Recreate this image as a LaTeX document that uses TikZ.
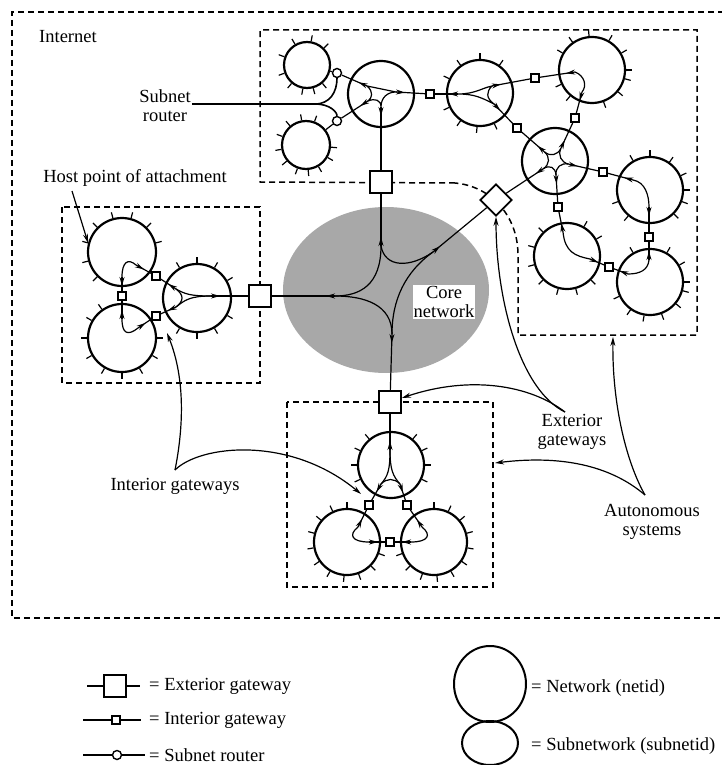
\documentclass[tikz,border=0pt]{standalone}
\usepackage{fontspec}
\setmainfont{Liberation Serif}
\usepackage{tikz}
\usetikzlibrary{arrows.meta,calc,decorations.markings,shapes.geometric}
\definecolor{coregray}{RGB}{168,168,168}

\tikzset{
  net/.style={circle,draw,line width=2.2pt,minimum size=#1,inner sep=0pt},
  net/.default=66pt,
  extgw/.style={rectangle,draw,fill=white,line width=1.8pt,minimum size=22pt,inner sep=0pt},
  intgw/.style={rectangle,draw,fill=white,line width=1.4pt,minimum size=8pt,inner sep=0pt},
  subrt/.style={circle,draw,fill=white,line width=1.4pt,minimum size=9pt,inner sep=0pt},
  asbox/.style={line width=1.5pt,dash pattern=on 6pt off 4pt},
  link/.style={line width=1.2pt},
  tipat/.style={link,postaction={decorate},
    decoration={markings,mark=at position #1 with {\arrow{>}}}},
  tipat/.default=9pt,
  callout/.style={line width=1.2pt,->},
  lbl/.style={font=\fontsize{18.5}{19}\selectfont,align=center,inner sep=1pt},
  >={Stealth[length=9pt,width=5pt]}
}
\newcommand{\nettick}[2]{\foreach \a in {#2} \draw[line width=1.2pt] (#1.\a) -- ++(\a:6pt);}

\begin{document}
\begin{tikzpicture}[x=1pt,y=-1pt]
\useasboundingbox (0,0) rectangle (722,765);

% internet and autonomous systems
\draw[asbox] (724,12) -- (12,12) -- (12,618) -- (724,618);
\draw[asbox] (455,183) -- (260,182) -- (260,30) -- (697,30) -- (697,335) -- (518,335)
  -- (518,255) .. controls (518,215) and (490,186) .. (455,183);
\draw[asbox] (62,207) rectangle (260,383);
\draw[asbox] (287,402) rectangle (493,587);
\fill[coregray] (386,290) ellipse [x radius=103pt, y radius=83pt];

\node[lbl,anchor=west] (inet) at (38,37) {Internet};
\node[lbl] (srlbl) at (165,106) {Subnet\\router};
\node[lbl] (host) at (135,178) {Host point of attachment};
\node[lbl] (iglbl) at (175,486) {Interior gateways};
\node[lbl] (eglbl) at (572,432) {Exterior\\gateways};
\node[lbl] (aslbl) at (652,522) {Autonomous\\systems};
\node[lbl,fill=white] (core) at (444,302) {Core\\network};

% networks
\node[net=46pt] (A1) at (307,65) {};
\node[net=48pt] (A2) at (306,145) {};
\node[net] (A3) at (381,94) {};
\node[net] (A4) at (480,93) {};
\node[net] (A5) at (592,70) {};
\node[net] (A6) at (555,161) {};
\node[net] (A7) at (650,190) {};
\node[net] (A8) at (567,256) {};
\node[net] (A9) at (650,282) {};
\node[net=68pt] (L1) at (122,252) {};
\node[net=68pt] (L2) at (122,338) {};
\node[net=68pt] (L3) at (197,298) {};
\node[net] (B1) at (391,465) {};
\node[net] (B2) at (347,542) {};
\node[net] (B3) at (434,542) {};

\nettick{A1}{45,80,120,160,200,230,260,285,310}
\nettick{A2}{70,100,130,160,190,220,250,275,300,330,355}
\nettick{A4}{55,90,125,155,205,235,265,295}
\nettick{A5}{0,30,60,95,125,150,205,230,290,320,345}
\nettick{A7}{0,25,55,90,120,200,230,315,340}
\nettick{A8}{30,60,135,165,195,225,255,285,315}
\nettick{A9}{0,30,60,120,205,235,260,290,320,345}
\nettick{L1}{15,45,75,105,135,165,195,225}
\nettick{L2}{125,150,180,210,240,270,300,330,0}
\nettick{L3}{30,60,90,120,240,270,300,330}
\nettick{B1}{0,25,50,130,155,180,205,335}
\nettick{B2}{90,115,140,165,190,215,240,265,290,315,340}
\nettick{B3}{90,65,40,15,350,325,300,275,250,225,200}

% gateways and routers
\node[extgw] (xT) at (381,182) {};
\node[extgw] (xL) at (260,296) {};
\node[extgw] (xB) at (390,402) {};
\node[extgw,rotate=45] (xD) at (496,200) {};
\node[intgw] (gA34) at (430,94) {};
\node[intgw] (gA45) at (535,78) {};
\node[intgw] (gA46) at (517,128) {};
\node[intgw] (gA56) at (575,118) {};
\node[intgw] (gA67) at (603,172) {};
\node[intgw] (gA68) at (558,207) {};
\node[intgw] (gA79) at (649,237) {};
\node[intgw] (gA89) at (609,267) {};
\node[intgw] (gL12) at (122,296) {};
\node[intgw] (gL13) at (156,276) {};
\node[intgw] (gL23) at (156,316) {};
\node[intgw] (gB12) at (369,505) {};
\node[intgw] (gB13) at (407,505) {};
\node[intgw] (gB23) at (390,542) {};
\node[subrt] (r1) at (337,73) {};
\node[subrt] (r2) at (337,121) {};
\draw[link] (A1) -- (r1);
\draw[link] (A2) -- (r2);

% routes in A3
\coordinate (a3a) at (367,86);
\coordinate (a3b) at (396,92);
\coordinate (a3c) at (381,107);
\coordinate (a3d) at (368,101);
\draw[link] (a3a) -- (a3b) .. controls (388,92) and (381,97) .. (a3c)
  .. controls (381,100) and (375,98) .. (a3d) .. controls (372,98) and (374,92) .. (a3a);
\draw[tipat] (a3a) -- (r1);
\draw[tipat] (a3b) -- (gA34);
\draw[tipat] (a3c) -- (xT);
\draw[tipat] (a3d) -- (r2);

% A4, A5
\coordinate (a4w) at (458,94);
\coordinate (a4n) at (492,86);
\coordinate (a4s) at (494,104);
\draw[link] (a4w) .. controls (475,94) and (482,88) .. (a4n) .. controls (486,92) and (486,98) .. (a4s)
  .. controls (482,98) and (475,94) .. (a4w);
\draw[tipat] (a4w) -- (gA34);
\draw[tipat] (a4n) -- (gA45);
\draw[tipat] (a4s) -- (gA46);
\coordinate (a5w) at (575,72);
\coordinate (a5s) at (582,92);
\draw[link] (a5w) .. controls (585,76) and (587,86) .. (a5s);
\draw[tipat] (a5w) -- (gA45);
\draw[tipat] (a5s) -- (gA56);

% A6 hub
\foreach \n/\ang in {1/65,2/139,3/213.5,4/274,5/347}
  \coordinate (a6p\n) at ($(A6)+(\ang:14pt)$);
\foreach \i/\j in {1/2,2/3,3/4,4/5,5/1}
  \draw[link] (a6p\i) .. controls ($(A6)!0.45!(a6p\i)$) and ($(A6)!0.45!(a6p\j)$) .. (a6p\j);
\draw[tipat] (a6p1) -- (gA56);
\draw[tipat] (a6p2) -- (gA46);
\draw[tipat] (a6p3) -- (xD);
\draw[tipat] (a6p4) -- (gA68);
\draw[tipat] (a6p5) -- (gA67);

% A7, A8, A9
\coordinate (a7w) at (633,180);
\coordinate (a7s) at (649,207);
\draw[link] (a7w) .. controls (645,182) and (649,195) .. (a7s);
\draw[tipat] (a7w) -- (gA67);
\draw[tipat] (a7s) -- (gA79);
\coordinate (a8n) at (563,232);
\coordinate (a8e) at (590,259);
\draw[link] (a8n) .. controls (565,252) and (575,256) .. (a8e);
\draw[tipat] (a8n) -- (gA68);
\draw[tipat] (a8e) -- (gA89);
\coordinate (a9n) at (649,260);
\coordinate (a9w) at (628,274);
\draw[link] (a9n) .. controls (648,270) and (640,274) .. (a9w);
\draw[tipat] (a9n) -- (gA79);
\draw[tipat] (a9w) -- (gA89);

% left system
\coordinate (l1e) at (136,265);
\coordinate (l1s) at (122,277);
\draw[link] (l1e) .. controls (128,258) and (122,262) .. (l1s);
\draw[tipat] (l1e) -- (gL13);
\draw[tipat] (l1s) -- (gL12);
\coordinate (l2n) at (122,319);
\coordinate (l2e) at (138,328);
\draw[link] (l2n) .. controls (122,334) and (128,336) .. (l2e);
\draw[tipat] (l2n) -- (gL12);
\draw[tipat] (l2e) -- (gL23);
\coordinate (l3u) at (176,289);
\coordinate (l3d) at (176,307);
\coordinate (l3r) at (211,296);
\draw[link] (l3u) .. controls (185,294) and (190,296) .. (l3r);
\draw[link] (l3d) .. controls (185,300) and (190,296) .. (l3r);
\draw[link] (l3u) .. controls (184,295) and (184,301) .. (l3d);
\draw[tipat] (l3u) -- (gL13);
\draw[tipat] (l3d) -- (gL23);
\draw[tipat] (l3r) -- (xL);

% bottom system
\coordinate (b1n) at (390,450);
\coordinate (b1l) at (381,484);
\coordinate (b1r) at (400,484);
\draw[link] (b1n) .. controls (390,470) and (388,476) .. (b1l);
\draw[link] (b1n) .. controls (390,470) and (393,476) .. (b1r);
\draw[link] (b1l) .. controls (387,478) and (394,478) .. (b1r);
\draw[tipat] (b1n) -- (xB);
\draw[tipat] (b1l) -- (gB12);
\draw[tipat] (b1r) -- (gB13);
\coordinate (b2n) at (358,527);
\coordinate (b2e) at (369,542);
\draw[link] (b2n) .. controls (348,535) and (352,542) .. (b2e);
\draw[tipat] (b2n) -- (gB12);
\draw[tipat] (b2e) -- (gB23);
\coordinate (b3n) at (422,527);
\coordinate (b3w) at (411,542);
\draw[link] (b3n) .. controls (432,535) and (428,542) .. (b3w);
\draw[tipat] (b3n) -- (gB13);
\draw[tipat] (b3w) -- (gB23);

% core network
\coordinate (cT) at (381,246);
\coordinate (cL) at (335,296);
\coordinate (cB) at (392,334);
\coordinate (cR) at (433,252);
\draw[link] (cT) .. controls (381,285) and (360,296) .. (cL);
\draw[link] (cT) .. controls (385,268) and (410,268) .. (cR);
\draw[link] (cL) .. controls (365,296) and (392,305) .. (cB);
\draw[link] (cR) .. controls (405,272) and (392,300) .. (cB);
\draw[tipat] (cT) -- (xT);
\draw[tipat] (cL) -- (xL);
\draw[tipat] (cB) -- (xB);
\draw[tipat] (cR) -- (xD);

% callouts
\coordinate (hostA) at (72,191);
\draw[callout] (hostA) -- (L1.165);
\coordinate (srA) at (315,104);
\draw[line width=1.6pt] (srlbl.east |- srA) -- (srA);
\draw[line width=1.6pt] (srA) .. controls (330,104) and (337,92) .. (r1);
\draw[line width=1.6pt] (srA) .. controls (330,104) and (337,112) .. (r2);
\coordinate (igA) at (175,470);
\coordinate (igL) at (167,333);
\coordinate (igB) at (361,494);
\draw[callout] (igA) .. controls (183,430) and (186,380) .. (igL);
\draw[callout] (igA) .. controls (200,445) and (290,435) .. (igB);
\coordinate (egA) at (565,412);
\draw[callout] (egA) .. controls (520,390) and (496,300) .. (xD);
\draw[callout] (egA) .. controls (530,385) and (470,375) .. (xB);
\coordinate (asA) at (645,495);
\coordinate (asT) at (613,337);
\coordinate (asB) at (495,463);
\draw[callout] (asA) .. controls (625,460) and (612,400) .. (asT);
\draw[callout] (asA) .. controls (610,465) and (560,455) .. (asB);

% legend
\node[extgw] (lgX) at (115,686) {};
\draw[link] (lgX.west) -- ++(-16,0);
\draw[link] (lgX.east) -- ++(13,0);
\node[intgw] (lgI) at (116,720) {};
\draw[line width=2.2pt] (lgI.west) -- ++(-28,0);
\draw[link] (lgI.east) -- ++(20,0);
\node[subrt] (lgR) at (117,755) {};
\draw[link] (lgR.west) -- ++(-29,0);
\draw[link] (lgR.east) -- ++(23,0);
\node[lbl,anchor=west] (lgXt) at (148,686) {= Exterior gateway};
\node[lbl,anchor=west] (lgIt) at (148,720) {= Interior gateway};
\node[lbl,anchor=west] (lgRt) at (148,755) {= Subnet router};
\node[ellipse,draw,line width=2pt,minimum width=72pt,minimum height=76pt] (lgN) at (490,684) {};
\node[ellipse,draw,line width=2pt,minimum width=56pt,minimum height=44pt] (lgS) at (490,743) {};
\node[lbl,anchor=west] (lgNt) at (530,688) {= Network (netid)};
\node[lbl,anchor=west] (lgSt) at (530,746) {= Subnetwork (subnetid)};
\end{tikzpicture}
\end{document}
